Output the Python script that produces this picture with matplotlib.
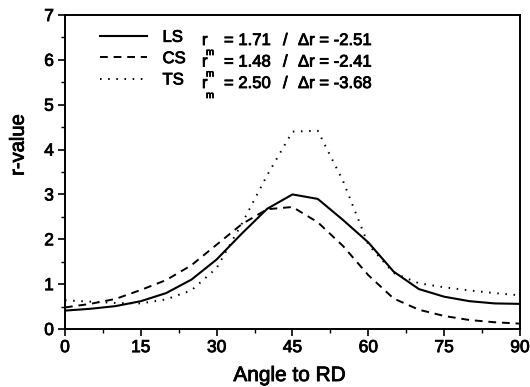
import matplotlib
matplotlib.use("Agg")
import matplotlib.pyplot as plt
import matplotlib.patheffects as pe
from matplotlib.ticker import MultipleLocator

plt.rcParams['font.family'] = ['Liberation Sans', 'DejaVu Sans']

angles = [0, 5, 10, 15, 20, 25, 30, 35, 40, 45, 50, 55, 60, 65, 70, 75, 80, 85, 90]
ls_vals = [0.41, 0.45, 0.51, 0.62, 0.80, 1.10, 1.55, 2.13, 2.68, 3.00, 2.90, 2.43, 1.93, 1.28, 0.89, 0.72, 0.62, 0.57, 0.56]
cs_vals = [0.48, 0.56, 0.67, 0.87, 1.09, 1.42, 1.88, 2.34, 2.67, 2.72, 2.38, 1.85, 1.20, 0.68, 0.43, 0.29, 0.20, 0.15, 0.12]
ts_vals = [0.64, 0.61, 0.58, 0.57, 0.66, 0.86, 1.36, 2.35, 3.43, 4.40, 4.42, 3.30, 1.88, 1.25, 1.02, 0.93, 0.86, 0.80, 0.75]

series_names = ['LS', 'CS', 'TS']
rm_vals = ['1.71', '1.48', '2.50']
dr_vals = ['-2.51', '-2.41', '-3.68']

stroke = [pe.withStroke(linewidth=0.6, foreground='black')]

fig = plt.figure(figsize=(5.3, 3.87), dpi=100)
ax = fig.add_axes([0.1226, 0.1499, 0.8585, 0.8113])

ax.plot(angles, ls_vals, color='black', lw=1.5, linestyle='-', label=series_names[0])
ax.plot(angles, cs_vals, color='black', lw=1.4, linestyle=(0, (4, 3)), label=series_names[1])
ax.plot(angles, ts_vals, color='black', lw=1.4, linestyle=(0, (0.8, 3.4)), label=series_names[2])

ax.set_xlim(0, 90)
ax.set_ylim(0, 7)
ax.xaxis.set_major_locator(MultipleLocator(15))
ax.xaxis.set_minor_locator(MultipleLocator(7.5))
ax.yaxis.set_major_locator(MultipleLocator(1))
ax.yaxis.set_minor_locator(MultipleLocator(0.5))
ax.tick_params(which='major', direction='out', length=5, width=1.2, labelsize=12.5, pad=3)
ax.tick_params(which='minor', direction='out', length=3, width=1.0)
for lab in ax.get_xticklabels() + ax.get_yticklabels():
    lab.set_path_effects(stroke)
for s in ax.spines.values():
    s.set_linewidth(1.4)

ax.set_xlabel('Angle to RD', fontsize=15, path_effects=stroke)
ax.set_ylabel('r-value', fontsize=14.5, path_effects=stroke)
ax.xaxis.set_label_coords(0.494, -0.118)
ax.yaxis.set_label_coords(-0.082, 0.586)

leg = ax.legend(loc='upper left', frameon=False, fontsize=12, handlelength=2.8,
                handletextpad=0.95, labelspacing=0.38, borderpad=0, borderaxespad=0,
                bbox_to_anchor=(0.077, 0.953))
for t in leg.get_texts():
    t.set_path_effects(stroke)

# Remaining legend text (r_m and delta r values), aligned with legend rows
px_x = 1.0 / 455.0
px_y = 1.0 / 314.0
row_base = [(329 - b) / 314.0 for b in (45, 66.5, 88)]
for i in range(3):
    yb = row_base[i]
    ax.text((202 - 65) * px_x, yb, 'r', fontsize=12, va='baseline', ha='left',
            transform=ax.transAxes, path_effects=stroke)
    ax.text((206 - 65) * px_x, yb - 10 * px_y, 'm', fontsize=7, va='baseline', ha='left',
            transform=ax.transAxes, path_effects=stroke)
    ax.text((224 - 65) * px_x, yb, '= ' + rm_vals[i], fontsize=12, va='baseline', ha='left',
            transform=ax.transAxes, path_effects=stroke)
    ax.text((283 - 65) * px_x, yb, '/', fontsize=12, va='baseline', ha='left',
            transform=ax.transAxes, path_effects=stroke)
    ax.text((298 - 65) * px_x, yb, 'Δr = ' + dr_vals[i], fontsize=12, va='baseline', ha='left',
            transform=ax.transAxes, path_effects=stroke)

fig.savefig('out.png', dpi=100)
